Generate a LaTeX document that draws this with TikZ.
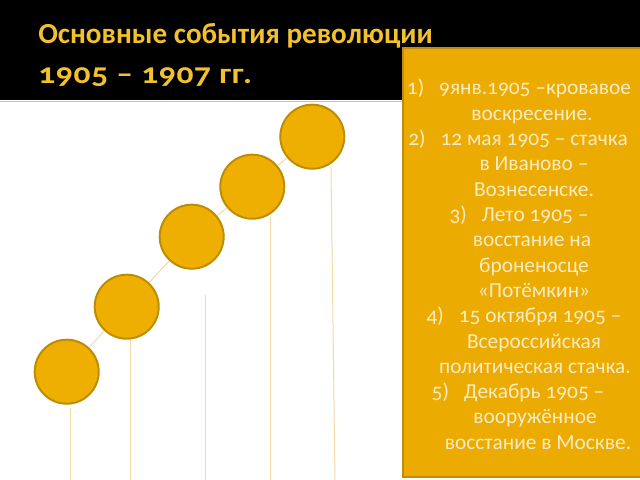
\documentclass[tikz,border=0pt]{standalone}
\usepackage{fontspec}
\setmainfont{Carlito}[Numbers=OldStyle]

\definecolor{titlegold}{HTML}{F2C12E}
\definecolor{dotfill}{HTML}{EFAF00}
\definecolor{dotedge}{HTML}{BE8C00}
\definecolor{panelfill}{HTML}{ECAB00}
\definecolor{paneledge}{HTML}{C08C10}
\definecolor{paneltext}{HTML}{FBEBC5}
\definecolor{stemline}{HTML}{F0DAAA}

\begin{document}
\begin{tikzpicture}[x=0.025cm, y=-0.025cm,
  dot/.style={circle, draw=dotedge, fill=dotfill, line width=1.4pt,
    minimum size=1.6cm, inner sep=0pt},
  stem/.style={draw=stemline, line width=0.7pt},
  panel/.style={rectangle, draw=paneledge, fill=panelfill, line width=1.4pt,
    minimum width=6.05cm, minimum height=10.725cm},
  titletext/.style={anchor=base west, inner sep=0pt, text=titlegold,
    font=\fontsize{20.7}{25}\selectfont\bfseries},
  eventline/.style={anchor=base, text=paneltext,
    font=\fontsize{15.2}{18}\selectfont}]
\useasboundingbox (0,0) rectangle (640,480);
\fill[white] (0,0) rectangle (640,480);
\fill[black] (0,0) rectangle (640,100);
\draw[black!25, line width=0.8pt] (0,101.5) -- (640,101.5);

\node[titletext] (title1) at (38,44) {Основные события революции};
\node[titletext] (title2) at (38,83)
  {\scalebox{1.15}[1]{\addfontfeature{LetterSpace=2}1905 – 1907 гг.}};

\foreach \i/\tx/\ty/\bx in {1/70/408/70, 2/130/340/130, 3/205/295/205,
    4/270/217/270, 5/331/167/335} {
  \coordinate (t\i) at (\tx,\ty);
  \coordinate (b\i) at (\bx,480);
  \draw[stem] (t\i) -- (b\i);
}

\node[dot] (c1) at (66.7,371.7) {};
\node[dot] (c2) at (126.7,306.7) {};
\node[dot] (c3) at (191.7,236.7) {};
\node[dot] (c4) at (252.3,186.7) {};
\node[dot] (c5) at (312.3,136.7) {};
\foreach \a/\b in {c1/c2, c2/c3, c3/c4, c4/c5}
  \draw[stem] (\a) -- (\b);

\node[panel] (panel) at (524,262.5) {};
\foreach \cx/\txt [count=\i] in {
    519/{1)\hspace{.7em}9янв.1905 –кровавое},
    532/{воскресение.},
    518/{2)\hspace{.7em}12 мая 1905 – стачка},
    534/{в Иваново –},
    534/{Вознесенске.},
    519/{3)\hspace{.7em}Лето 1905 –},
    532/{восстание на},
    534/{броненосце},
    534/{«Потёмкин»},
    524/{4)\hspace{.7em}15 октября 1905 –},
    534/{Всероссийская},
    535/{политическая стачка.},
    518/{5)\hspace{.7em}Декабрь 1905 –},
    535/{вооружённое},
    538/{восстание в Москве.}} {
  \node[eventline] (ev\i) at (\cx,{95+(\i-1)*25.3}) {\txt};
}
\end{tikzpicture}
\end{document}
